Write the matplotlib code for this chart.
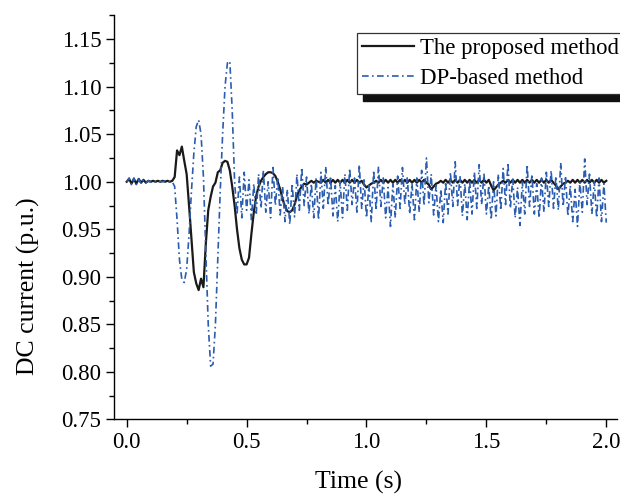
import numpy as np
import matplotlib.pyplot as plt
from matplotlib.patches import Rectangle
from matplotlib.ticker import MultipleLocator, FormatStrFormatter

plt.rcParams['font.family'] = ['Liberation Serif', 'DejaVu Serif']

# sample times (s), 10 ms step
t = np.round(np.arange(0, 2.001, 0.01), 2)

# DC current of the proposed method (p.u.)
proposed = [
    1.000, 1.003, 0.998, 1.003, 0.998, 1.003, 0.999, 1.002, 0.999, 1.001,
    1.000, 1.001, 1.000, 1.001, 1.000, 1.001, 1.000, 1.001, 1.000, 1.001,
    1.005, 1.033, 1.028, 1.037, 1.022, 1.008, 0.975, 0.940, 0.905, 0.893,
    0.886, 0.898, 0.889, 0.935, 0.970, 0.984, 0.995, 0.999, 1.010, 1.012,
    1.020, 1.022, 1.021, 1.012, 0.995, 0.975, 0.950, 0.930, 0.918, 0.913,
    0.913, 0.920, 0.945, 0.968, 0.985, 0.995, 1.001, 1.005, 1.008, 1.010,
    1.010, 1.009, 1.006, 1.000, 0.992, 0.982, 0.974, 0.969, 0.968, 0.970,
    0.976, 0.985, 0.991, 0.995, 0.998, 0.997, 0.999, 1.001, 0.999, 1.001,
    1.000, 0.999, 1.002, 0.999, 1.002, 0.999, 1.002, 0.999, 1.002, 0.999,
    1.002, 0.999, 1.002, 0.999, 1.002, 0.999, 1.002, 0.999, 1.001, 0.997,
    0.994, 0.996, 0.998, 0.999, 1.001, 0.999, 1.002, 0.999, 1.002, 0.999,
    1.002, 0.999, 1.002, 0.999, 1.002, 0.999, 1.002, 0.999, 1.002, 0.999,
    1.002, 0.999, 1.002, 0.999, 1.002, 0.999, 0.997, 0.992, 0.995, 0.998,
    0.999, 1.001, 0.999, 1.002, 0.999, 1.002, 0.999, 1.002, 0.999, 1.002,
    0.999, 1.002, 0.999, 1.002, 0.999, 1.002, 0.999, 1.002, 0.999, 1.002,
    0.999, 1.002, 0.996, 0.991, 0.994, 0.997, 0.999, 1.001, 0.999, 1.002,
    0.999, 1.002, 0.999, 1.002, 0.999, 1.002, 0.999, 1.002, 0.999, 1.002,
    0.999, 1.002, 0.999, 1.002, 0.999, 1.002, 0.999, 1.002, 0.999, 0.996,
    0.992, 0.995, 0.998, 0.999, 1.001, 0.999, 1.002, 0.999, 1.002, 0.999,
    1.002, 0.999, 1.002, 0.999, 1.002, 0.999, 1.002, 0.999, 1.002, 0.999,
    1.001,
]

# DC current of the DP-based method (p.u.)
dp_based = [
    1.000, 1.004, 0.997, 1.004, 0.997, 1.003, 0.998, 1.002, 0.999, 1.001,
    1.000, 1.001, 1.000, 1.001, 1.000, 1.000, 1.001, 1.000, 1.000, 1.000,
    0.995, 0.960, 0.918, 0.897, 0.894, 0.908, 0.945, 0.990, 1.030, 1.058,
    1.065, 1.050, 1.005, 0.925, 0.850, 0.806, 0.808, 0.850, 0.920, 0.990,
    1.050, 1.100, 1.125, 1.127, 1.075, 1.000, 0.965, 1.005, 0.962, 1.010,
    0.970, 1.002, 0.960, 0.998, 0.965, 1.008, 0.972, 1.012, 0.968, 1.000,
    0.962, 1.015, 0.975, 1.005, 0.965, 0.995, 0.958, 0.992, 0.955, 0.998,
    0.963, 1.008, 0.970, 1.015, 0.975, 1.005, 0.966, 0.998, 0.962, 1.004,
    0.960, 1.010, 0.972, 1.016, 0.975, 1.006, 0.964, 0.996, 0.958, 1.000,
    0.962, 1.008, 0.970, 1.014, 0.976, 1.004, 0.968, 1.018, 0.972, 1.002,
    0.962, 0.996, 0.958, 1.012, 0.970, 1.016, 0.974, 1.004, 0.962, 0.994,
    0.953, 0.998, 0.962, 1.006, 0.972, 1.015, 0.976, 1.005, 0.966, 0.998,
    0.960, 1.004, 0.968, 1.012, 0.975, 1.025, 0.978, 1.008, 0.965, 0.996,
    0.958, 0.992, 0.957, 1.000, 0.966, 1.010, 0.974, 1.021, 0.975, 1.006,
    0.964, 0.998, 0.960, 1.002, 0.966, 1.010, 0.972, 1.018, 0.976, 1.008,
    0.966, 0.996, 0.960, 1.000, 0.964, 1.008, 0.970, 1.014, 0.976, 1.020,
    0.972, 1.004, 0.962, 0.994, 0.954, 1.000, 0.966, 1.018, 0.974, 1.008,
    0.966, 0.998, 0.962, 1.004, 0.968, 1.010, 0.974, 1.012, 0.972, 1.006,
    0.970, 1.020, 0.974, 1.006, 0.964, 0.996, 0.958, 0.992, 0.953, 1.000,
    0.968, 1.024, 0.976, 1.008, 0.966, 1.000, 0.962, 1.004, 0.958, 0.998,
    0.957,
]

labels = ['The proposed method', 'DP-based method']

fig = plt.figure(figsize=(6.2, 4.95), dpi=100)
ax = fig.add_axes([114 / 620, 1 - 419.3 / 495, 503.3 / 620, 404.3 / 495])

ax.plot(t, proposed, color='#1a1a1a', lw=1.6, label=labels[0])
ax.plot(t, dp_based, color='#2a5cb0', lw=1.2, ls=(0, (4, 2, 1, 2)), label=labels[1])

ax.set_xlim(-0.053, 2.046)
ax.set_ylim(0.75, 1.1755)
ax.xaxis.set_major_locator(MultipleLocator(0.5))
ax.xaxis.set_minor_locator(MultipleLocator(0.25))
ax.yaxis.set_major_locator(MultipleLocator(0.05))
ax.yaxis.set_minor_locator(MultipleLocator(0.025))
ax.xaxis.set_major_formatter(FormatStrFormatter('%.1f'))
ax.yaxis.set_major_formatter(FormatStrFormatter('%.2f'))

for s in ['top', 'right']:
    ax.spines[s].set_visible(False)
for s in ['left', 'bottom']:
    ax.spines[s].set_linewidth(1.0)
ax.tick_params(which='major', direction='out', length=6, width=1.0, labelsize=16.5, pad=3)
ax.tick_params(which='minor', direction='out', length=3.5, width=1.0)

ax.set_xlabel('Time (s)', fontsize=18.5)
ax.set_ylabel('DC current (p.u.)', fontsize=18.5)
ax.xaxis.set_label_coords(0.485, -0.128)
ax.yaxis.set_label_coords(-0.147, 0.33)

leg = ax.legend(loc='upper left', bbox_to_anchor=(357 / 620, 1 - 33 / 495),
                bbox_transform=fig.transFigure, borderaxespad=0, fontsize=16.4,
                frameon=True, fancybox=False, framealpha=1, facecolor='white',
                handlelength=2.3, handletextpad=0.25,
                borderpad=0.22, labelspacing=0.4)
leg.get_frame().set_edgecolor('#333333')
leg.get_frame().set_linewidth(0.9)

# drop shadow under the legend box
fig.canvas.draw()
bb = leg.get_window_extent().transformed(ax.transAxes.inverted())
dx, dy = 6 / 503.3, 7 / 404.3
ax.add_patch(Rectangle((bb.x0 + dx, bb.y0 - dy), bb.width, bb.height,
                       transform=ax.transAxes, color='#111111', zorder=4.9, clip_on=False))

fig.savefig('out.png', dpi=100)
